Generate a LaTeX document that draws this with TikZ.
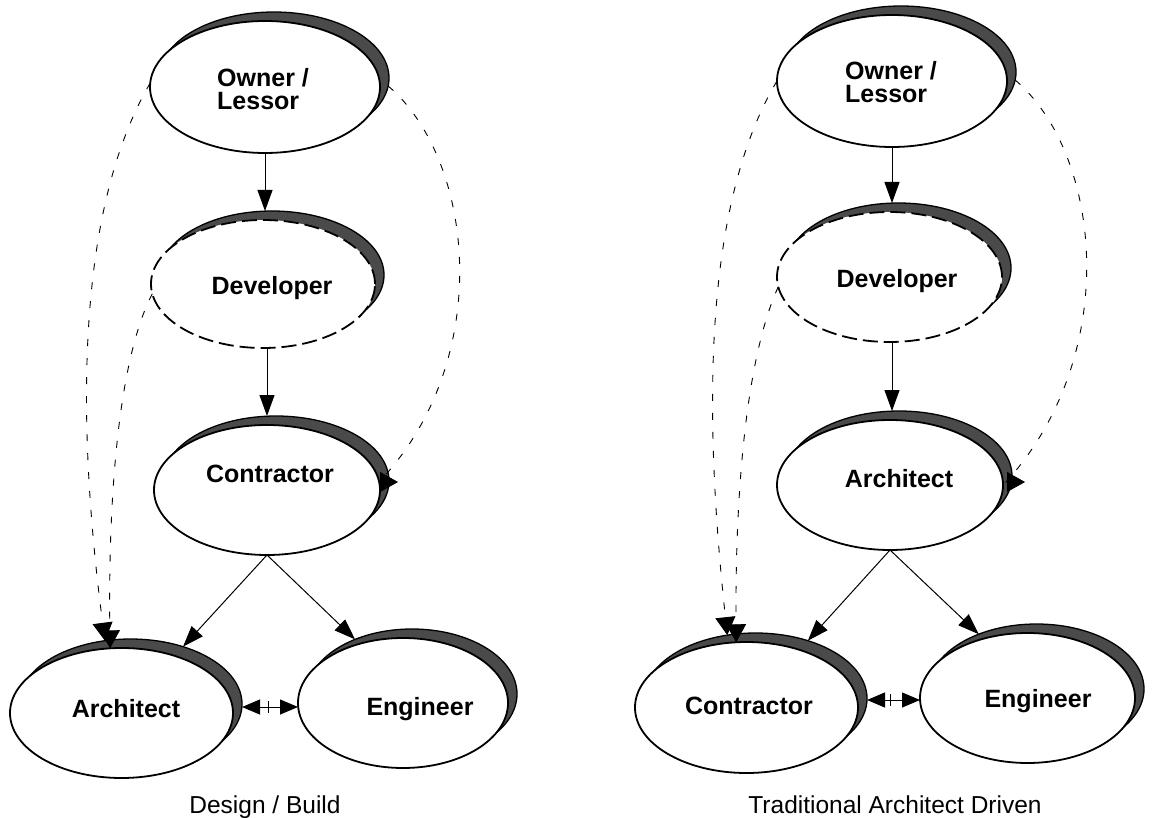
\documentclass[tikz,border=0pt]{standalone}
\usepackage{fontspec}
\setmainfont{Liberation Sans}
\usetikzlibrary{arrows.meta,shapes.geometric}
\definecolor{shadefill}{RGB}{74,74,74}
\tikzset{
  party/.style={ellipse, draw=black, line width=1.8pt, fill=white, inner sep=0pt, outer sep=0pt},
  partyshade/.style={ellipse, draw=black, line width=1.3pt, fill=shadefill, inner sep=0pt, outer sep=0pt},
  tentative/.style={dash pattern=on 15pt off 6pt},
  name label/.style={font=\fontsize{25}{25}\selectfont\bfseries, inner sep=0pt, text height=17pt, text depth=2pt},
  caption/.style={font=\fontsize{24.5}{25}\selectfont, inner sep=0pt, anchor=base},
  link/.style={line width=1pt, -{Triangle[length=21pt,width=15pt]}},
  hint/.style={line width=0.9pt, dash pattern=on 7pt off 12pt, -{Triangle[length=18pt,width=20pt]}},
  mutual/.style={line width=1pt, {Triangle[length=18pt,width=15pt]}-{Triangle[length=18pt,width=15pt]}},
  tick/.style={line width=0.8pt},
}
% party ellipse with its raised dark shadow: name, x, y, width, height, extra style
\newcommand\partyat[6]{%
  \node[partyshade, minimum width=#4pt, minimum height=#5pt] (#1s) at (#2+9,#3-9) {};
  \node[party, #6, minimum width=#4pt, minimum height=#5pt] (#1) at (#2,#3) {};}
\begin{document}
\begin{tikzpicture}[x=1pt,y=-1pt]
\fill[white] (0,0) rectangle (1154,818);
\useasboundingbox (0,0) rectangle (1154,818);

% ---------- Design / Build ----------
\partyat{LO}{265}{87}{230}{132}{}
\partyat{LD}{263}{284}{224}{128}{tentative}
\partyat{LC}{267}{490}{226}{130}{}
\partyat{LA}{121.5}{713}{223}{130}{}
\partyat{LE}{403}{703}{210}{130}{}

\node[name label, anchor=base west] (LOt1) at (217,87) {Owner /};
\node[name label, anchor=base west] (LOt2) at (217,110) {Lessor};
\node[name label, anchor=base] (LDt) at (272,295) {Developer};
\node[name label, anchor=base] (LCt) at (270,482) {Contractor};
\node[name label, anchor=base] (LAt) at (126,717) {Architect};
\node[name label, anchor=base] (LEt) at (420,715) {Engineer};
\node[caption] (Lcap) at (265,813) {Design / Build};

\coordinate (Lbend) at (379,482);
\coordinate (Ltip) at (398,482);
\coordinate (Lmid) at (268,707);

\draw[link] (LO.south) -- (LO.south |- LDs.north);
\draw[link] (LC.north |- LD.south) -- (LC.north |- LCs.north);
\draw[link] (LC.south) -- (LAs);
\draw[link] (LC.south) -- (LEs);
\draw[mutual] (LAs.east |- Lmid) -- (LE.west |- Lmid);
\draw[tick] (Lmid) ++(0,-6) -- ++(0,12);

\draw[hint] (LO.178) .. controls (70,220) and (80,450) .. (LAs.112);
\draw[hint] (LD.185) .. controls (118,360) and (108,500) .. (LA.100);
\draw[hint] (LOs.356) .. controls (475,160) and (495,360) .. (Lbend) -- (Ltip);

% ---------- Traditional Architect Driven ----------
\partyat{RO}{892}{81}{230}{132}{}
\partyat{RD}{889.5}{277}{225}{130}{tentative}
\partyat{RA}{890}{485}{226}{130}{}
\partyat{RC}{746.5}{707.5}{223}{131}{}
\partyat{RE}{1027.5}{698}{215}{130}{}

\node[name label, anchor=base west] (ROt1) at (845,80) {Owner /};
\node[name label, anchor=base west] (ROt2) at (845,103) {Lessor};
\node[name label, anchor=base] (RDt) at (897,288) {Developer};
\node[name label, anchor=base] (RAt) at (899,487) {Architect};
\node[name label, anchor=base] (RCt) at (749,714) {Contractor};
\node[name label, anchor=base] (REt) at (1038,707) {Engineer};
\node[caption] (Rcap) at (895,813) {Traditional Architect Driven};

\coordinate (Rbend) at (1006,482);
\coordinate (Rtip) at (1025,482);
\coordinate (Rmid) at (890,700);

\draw[link] (RO.south) -- (RO.south |- RDs.north);
\draw[link] (RO.south |- RD.south) -- (RO.south |- RAs.north);
\draw[link] (RA.south) -- (RCs);
\draw[link] (RA.south) -- (REs);
\draw[mutual] (RCs.east |- Rmid) -- (RE.west |- Rmid);
\draw[tick] (Rmid) ++(0,-6) -- ++(0,12);

\draw[hint] (RO.180) .. controls (697,215) and (707,445) .. (RCs.114);
\draw[hint] (RD.185) .. controls (745,360) and (735,500) .. (RC.99);
\draw[hint] (ROs.356) .. controls (1102,154) and (1122,354) .. (Rbend) -- (Rtip);
\end{tikzpicture}
\end{document}
